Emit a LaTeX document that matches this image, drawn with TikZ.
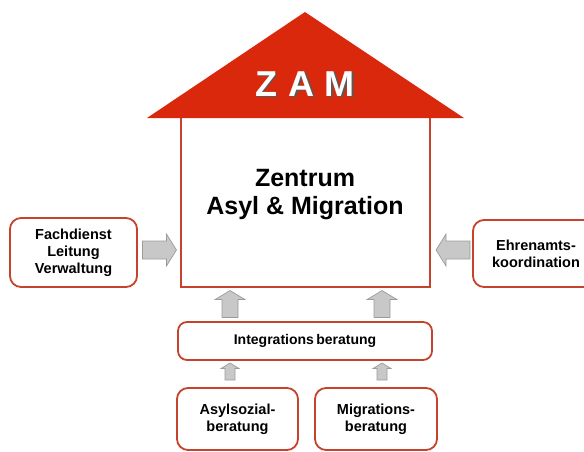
\documentclass[tikz,border=0pt]{standalone}
\usepackage{fontspec}
\setmainfont{Liberation Sans}
\usetikzlibrary{calc}
\definecolor{roofred}{RGB}{218,40,12}
\definecolor{boxred}{RGB}{198,66,42}
\definecolor{arrfill}{RGB}{200,200,200}
\definecolor{arrline}{RGB}{155,155,155}
\newcommand{\blkarrow}[7]{%
  \coordinate (#1) at (#2);
  \draw[arrowstyle,shift={(#2)},rotate=#3]
    (-#4/2,-#5/2) -- (#4/2-#7,-#5/2) -- (#4/2-#7,-#6/2) -- (#4/2,0)
    -- (#4/2-#7,#6/2) -- (#4/2-#7,#5/2) -- (-#4/2,#5/2) -- cycle;}
\begin{document}
\begin{tikzpicture}[x=1pt,y=-1pt,
  rbox/.style={draw=boxred,line width=1.8pt,rounded corners=11pt,fill=white,
    font=\bfseries\fontsize{14.5}{17}\selectfont,align=center,inner sep=0pt},
  arrowstyle/.style={draw=arrline,fill=arrfill,line width=0.7pt,line join=miter},
  zamfont/.style={font=\bfseries\fontsize{36}{36}\selectfont}]
\useasboundingbox (0,0) rectangle (584,451);
% roof
\coordinate (apex) at (305,12);
\coordinate (bl) at (147,118);
\coordinate (br) at (464,118);
\fill[roofred] (apex) -- (br) -- (bl) -- cycle;
\node[zamfont,text=black!65] at (306.5,85.5) {Z\hspace{0.32em}A\hspace{0.28em}M};
\node[zamfont,text=white] (zam) at (305,84) {Z\hspace{0.32em}A\hspace{0.28em}M};
% main box
\coordinate (mtl) at (181,118);
\coordinate (mbl) at (181,287);
\coordinate (mbr) at (430,287);
\coordinate (mtr) at (430,118);
\draw[boxred,line width=1.8pt] (mtl) -- (mbl) -- (mbr) -- (mtr);
\node[font=\bfseries\fontsize{25}{28}\selectfont,align=center] (main) at (305,195) {Zentrum\\Asyl \& Migration};
% side boxes
\node[rbox,minimum width=127pt,minimum height=69pt] (fach) at (73.5,252.5) {Fachdienst\\Leitung\\Verwaltung};
\node[rbox,minimum width=126pt,minimum height=67pt] (ehren) at (536,253.5) {Ehrenamts-\\koordination};
% integration
\node[rbox,rounded corners=9pt,minimum width=254pt,minimum height=38pt,
  font=\bfseries\fontsize{14}{17}\selectfont] (integ) at (305,341) {Integrations\,beratung};
\node[rbox,minimum width=121pt,minimum height=62pt] (asyl) at (237.5,419) {Asylsozial-\\beratung};
\node[rbox,minimum width=122pt,minimum height=62pt] (migr) at (376,419) {Migrations-\\beratung};
% block arrows
\blkarrow{a1}{$(fach.east |- 0,250)!0.5!(mbl |- 0,250)$}{0}{34}{18}{32}{10}
\blkarrow{a2}{$(ehren.west |- 0,250)!0.5!(mbr |- 0,250)+(2,0)$}{180}{34}{18}{32}{10}
\blkarrow{a3}{$(integ.north -| 230,0)!0.5!(230,287)$}{90}{27}{16}{30}{9}
\blkarrow{a4}{$(integ.north -| 382,0)!0.5!(382,287)$}{90}{27}{16}{30}{9}
\blkarrow{a5}{$(integ.south -| 230,0)!0.5!(asyl.north -| 230,0)+(0,-2.5)$}{90}{17}{10}{18}{5.5}
\blkarrow{a6}{$(integ.south -| 382,0)!0.5!(migr.north -| 382,0)+(0,-2.5)$}{90}{17}{10}{18}{5.5}
\end{tikzpicture}
\end{document}
